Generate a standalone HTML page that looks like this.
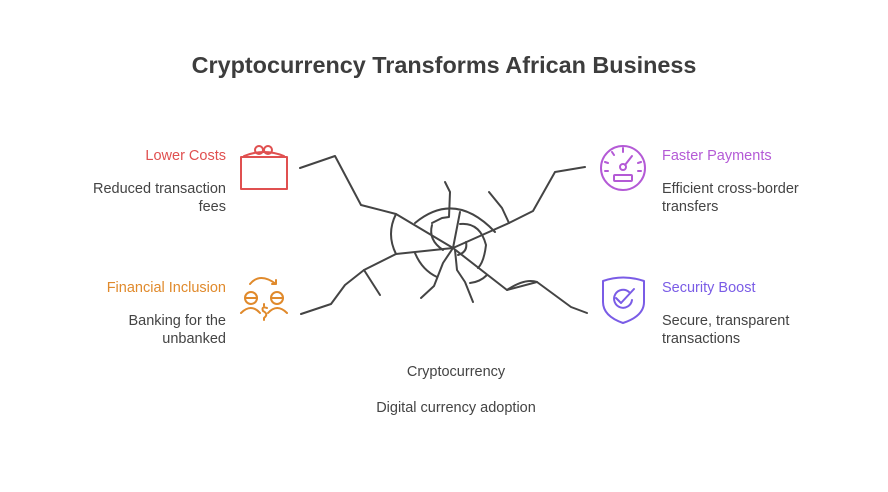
<!DOCTYPE html>
<html><head><meta charset="utf-8"><style>
body{margin:0;width:888px;height:492px;background:#fff;font-family:"Liberation Sans",sans-serif;position:relative;overflow:hidden}
.t{position:absolute;font-size:14.5px;color:#444;line-height:18px}
h1{position:absolute;top:52px;left:0;width:888px;text-align:center;font-size:23.4px;font-weight:bold;color:#3d3d3d;margin:0}
.r{text-align:right}
</style></head><body>
<h1>Cryptocurrency Transforms African Business</h1>
<div class="t r" style="right:662px;top:147px;color:#e05050">Lower Costs</div>
<div class="t r" style="right:662px;top:180px">Reduced transaction<br>fees</div>
<div class="t r" style="right:662px;top:279px;color:#e08a2c">Financial Inclusion</div>
<div class="t r" style="right:662px;top:312px">Banking for the<br>unbanked</div>
<div class="t" style="left:662px;top:147px;color:#b45ad6">Faster Payments</div>
<div class="t" style="left:662px;top:180px">Efficient cross-border<br>transfers</div>
<div class="t" style="left:662px;top:279px;color:#7a5ce6">Security Boost</div>
<div class="t" style="left:662px;top:312px">Secure, transparent<br>transactions</div>
<div class="t" style="left:0;width:912px;text-align:center;top:363px">Cryptocurrency</div>
<div class="t" style="left:0;width:912px;text-align:center;top:399px">Digital currency adoption</div>
<svg width="888" height="492" style="position:absolute;left:0;top:0" fill="none" stroke-linecap="round" stroke-linejoin="round">
<g stroke="#444" stroke-width="2">
<polyline points="300,168 335,156 361,205 396,214 453,248"/>
<path d="M396,214 Q386,234 396,254"/>
<polyline points="396,254 453,248"/>
<polyline points="396,254 364,270 345,285 331,304 301,314"/>
<polyline points="364,270 380,295"/>
<polyline points="453,248 509,223 533,211 555,172 585,167"/>
<polyline points="509,223 502,208 489,192"/>
<polyline points="453,248 507,290 537,282 571,307 587,313"/>
<path d="M507,290 Q525,278 537,282"/>
<polyline points="445,182 450,192 449,217 442,218 432,223"/>
<polyline points="460,212 453,248"/>
<path d="M415,223 Q455,190 495,232"/>
<path d="M460,224 Q480,222 486,245 Q484,262 478,268"/>
<path d="M415,253 Q422,270 437,277"/>
<path d="M432,225 Q428,240 443,250"/>
<path d="M466,242 Q468,252 458,255"/>
<polyline points="453,248 443,263 434,286 421,298"/>
<polyline points="455,250 457,270 465,282 473,302"/>
<path d="M470,283 Q480,282 487,275"/>
</g>
<g stroke="#e05050" stroke-width="2">
<rect x="241" y="157" width="46" height="32"/>
<circle cx="259" cy="150" r="4"/><circle cx="268" cy="150" r="4"/>
<path d="M244,156 Q264,148 284,156"/>
</g>
<g stroke="#e08a2c" stroke-width="2">
<path d="M250,284 Q260,272 276,284 M272,284 L276,284 L276,280"/>
<circle cx="251" cy="298" r="6"/><circle cx="277" cy="298" r="6"/>
<path d="M245,298 H257 M271,298 H283"/>
<path d="M241,313 Q251,303 260,313 M268,313 Q277,303 287,313"/>
<path d="M267,308 Q261,306 263,311 Q269,314 264,318 M264,304 V306 M264,318 V320"/>
</g>
<g stroke="#b45ad6" stroke-width="2">
<circle cx="623" cy="168" r="22"/>
<rect x="614" y="175" width="18" height="6" rx="1"/>
<circle cx="623" cy="167" r="3"/><path d="M625,165 L632,156"/>
<path d="M623,148 V152 M612,152 L614,155 M605,162 L608,163 M641,162 L638,163 M605,171 H608 M641,171 H638"/>
</g>
<g stroke="#7a5ce6" stroke-width="2">
<path d="M603,281 Q623,274 644,281 V302 Q644,316 623,323 Q603,316 603,302 Z"/>
<path d="M629,292 A9,9 0 1 0 632,300"/>
<path d="M616,298 L621,303 L634,289"/>
</g>
</svg>
</body></html>
